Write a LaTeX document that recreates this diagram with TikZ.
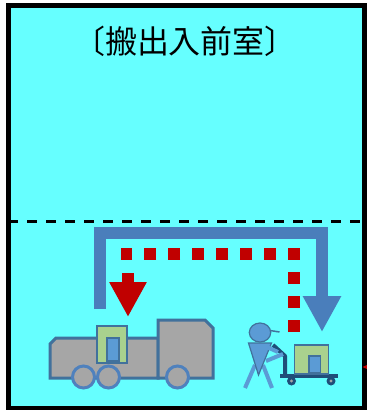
\documentclass[tikz,border=0pt]{standalone}
\usepackage{fontspec}
\newfontfamily\jpfont{Noto Sans CJK JP}
\usetikzlibrary{arrows.meta}

\definecolor{roomcyan}{HTML}{66FFFF}
\definecolor{routeblue}{HTML}{4A7EBB}
\definecolor{stopred}{HTML}{C00000}
\definecolor{bodygray}{HTML}{A6A6A6}
\definecolor{edgeblue}{HTML}{41719C}
\definecolor{wheelblue}{HTML}{4F81BD}
\definecolor{boxgreen}{HTML}{A9D18E}
\definecolor{doorblue}{HTML}{5B9BD5}
\definecolor{cartnavy}{HTML}{1F4E79}

\begin{document}
\begin{tikzpicture}[x=1pt, y=-1pt,
                    every node/.style={inner sep=0pt, font=\jpfont\fontsize{32}{32}\selectfont},
                    wall/.style={draw=black, line width=5pt, fill=roomcyan},
                    bigroute/.style={draw=routeblue, line width=12pt, -{Triangle[width=36pt,length=36pt]}},
                    dotroute/.style={draw=stopred, line width=12pt, dash pattern=on 12pt off 12pt},
                    droparrow/.style={draw=stopred, line width=12pt, -{Triangle[width=35pt,length=35pt]}},
                    lorry/.style={fill=bodygray, draw=edgeblue, line width=3pt, line join=miter},
                    tyre/.style={fill=bodygray, draw=wheelblue, line width=3pt},
                    crate/.style={fill=boxgreen, draw=edgeblue, line width=1.5pt},
                    door/.style={fill=doorblue, draw=edgeblue, line width=1.5pt},
                    worker/.style={fill=doorblue, draw=edgeblue, line width=1.2pt},
                    limb/.style={draw=doorblue, line width=4pt}]

    \useasboundingbox (0,0) rectangle (367,410);

    % Room outline and the dashed split line
    \draw[wall] (8,5.5) rectangle (364,408);
    \draw[line width=3pt, dash pattern=on 10pt off 9pt] (8,221) -- (364,221);
    \node (title) at (185,41) {〔搬出入前室〕};

    % Route points
    \coordinate (blueStart) at (100,309);
    \coordinate (blueTopL) at (100,233);
    \coordinate (blueTopR) at (322,233);
    \coordinate (blueEnd) at (322,332);
    \coordinate (redStart) at (294,332);
    \coordinate (redTopR) at (294,254);
    \coordinate (redTopL) at (121,254);
    \coordinate (dropTop) at (128,273);
    \coordinate (dropEnd) at (128,317);

    % Routes
    \draw[bigroute] (blueStart) -- (blueTopL) -- (blueTopR) -- (blueEnd);
    \draw[dotroute] (redStart) -- (redTopR) -- (redTopL);
    \draw[droparrow] (dropTop) -- (dropEnd);

    % Truck
    \draw[lorry] (50,344) -- (56,338) -- (158,338) -- (158,378) -- (50,378) -- cycle;
    \draw[lorry] (158,320) -- (205,320) -- (213,328) -- (213,378) -- (158,378) -- cycle;
    \draw[tyre] (83.5,377) circle (11);
    \draw[tyre] (108.5,377) circle (11);
    \draw[tyre] (177.5,377) circle (11);
    \draw[crate] (97,326) rectangle (127,363);
    \draw[door] (107,338) rectangle (119,361);

    % Hand cart
    \draw[cartnavy, line width=4pt, line join=round] (273,345) -- (285,356) -- (285,375);
    \fill[cartnavy] (280,374) rectangle (338,378);
    \fill[cartnavy] (291.5,381) circle (4.5);
    \fill[cartnavy] (331,381) circle (4.5);
    \fill[bodygray] (291.5,381) circle (1.6);
    \fill[bodygray] (331,381) circle (1.6);
    \draw[crate] (294.5,345) rectangle (328.5,374);
    \draw[door] (309,356) rectangle (320.5,373);

    % Worker
    \draw[limb] (255,365) -- (245,388);
    \draw[limb] (263,365) -- (272,388);
    \draw[worker] (248.5,343) -- (271.5,343) -- (258.5,375) -- cycle;
    \draw[limb] (267,347) -- (278,352);
    \draw[limb] (266,361) -- (283,354);
    \draw[worker] (260,332.5) ellipse (10.7 and 9.5);
    \draw[edgeblue, line width=1.5pt] (270,330.5) -- (279.5,332);

    % Red tick on the right wall
    \fill[stopred] (362.5,367) -- (367,365) -- (367,369) -- cycle;
\end{tikzpicture}
\end{document}
